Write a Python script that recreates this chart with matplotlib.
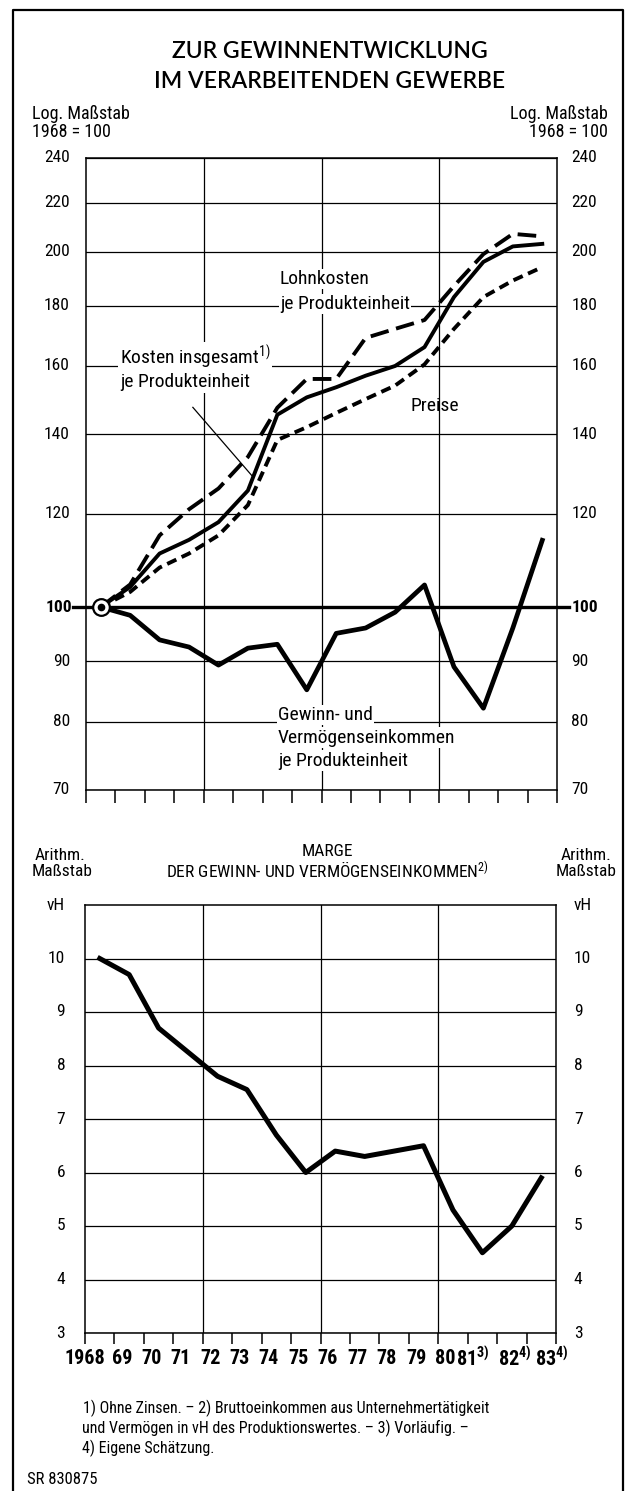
import matplotlib
matplotlib.use('Agg')
import matplotlib.pyplot as plt
from matplotlib import font_manager as fm
from matplotlib.lines import Line2D
from matplotlib.ticker import NullLocator
import numpy as np

# ---------------- data ----------------
years = list(range(1968, 1984))
year_labels = ['1968', '69', '70', '71', '72', '73', '74', '75', '76', '77',
               '78', '79', '80', r'81$^{3)}$', r'82$^{4)}$', r'83$^{4)}$']
kosten = [100, 104, 111, 114, 118, 125.5, 145.5, 150.5, 153.5, 157, 160, 166, 183, 196, 202, 203]
lohn = [100, 104.5, 115, 121, 126, 134, 147.5, 156, 156, 169, 172, 175, 187, 199, 207, 206]
preise = [100, 103, 108, 111, 115, 122, 138.5, 142, 146, 150, 154, 160.5, 172, 183, 189, 194]
gewinn = [100, 98.4, 93.8, 92.5, 89.3, 92.3, 93.0, 85.1, 95.0, 96.0, 99.0, 104.4, 89.0, 82.1, 96.0, 113.9]
marge = [10.0, 9.7, 8.7, 8.25, 7.8, 7.55, 6.7, 6.0, 6.4, 6.3, 6.4, 6.5, 5.3, 4.5, 5.0, 5.9]
top_ticks = [70, 80, 90, 100, 120, 140, 160, 180, 200, 220, 240]
bottom_ticks = [3, 4, 5, 6, 7, 8, 9, 10]

# ---------------- fonts ----------------
names = {f.name for f in fm.fontManager.ttflist}
def pick(*cands):
    for c in cands:
        if c in names:
            return c
    return 'DejaVu Sans'
NARROW = pick('Liberation Sans Narrow', 'Roboto Condensed', 'Liberation Sans')
TITLEF = pick('Lato', 'Open Sans', 'Liberation Sans')
plt.rcParams['font.family'] = [NARROW, 'DejaVu Sans']
plt.rcParams['mathtext.default'] = 'regular'

W, H = 626, 1491
fig = plt.figure(figsize=(W / 100, H / 100), dpi=100)

def fx(px):
    return px / W

def fy(py):
    return 1 - py / H

# frame around the whole figure
fig.add_artist(Line2D([fx(13), fx(13), fx(623), fx(623)], [0, fy(10), fy(10), 0],
                      transform=fig.transFigure, color='k', lw=1.6))

# ---------------- titles ----------------
fig.text(fx(330), fy(52), 'ZUR GEWINNENTWICKLUNG', ha='center', va='center',
         fontsize=16.5, family=TITLEF, weight='semibold')
fig.text(fx(330), fy(82), 'IM VERARBEITENDEN GEWERBE', ha='center', va='center',
         fontsize=16.5, family=TITLEF, weight='semibold')

fig.text(fx(32), fy(114), 'Log. Maßstab', ha='left', va='center', fontsize=13)
fig.text(fx(32), fy(132), '1968 = 100', ha='left', va='center', fontsize=13)
fig.text(fx(608), fy(114), 'Log. Maßstab', ha='right', va='center', fontsize=13)
fig.text(fx(608), fy(132), '1968 = 100', ha='right', va='center', fontsize=13)

# ---------------- top chart ----------------
x = np.arange(len(years)) + 0.5
ax1 = fig.add_axes([fx(86), fy(790), (557 - 86) / W, (790 - 158) / H])
ax1.set_yscale('log')
ax1.set_xlim(0, 16)
ax1.set_ylim(70, 240)
ax1.yaxis.set_major_locator(NullLocator())
ax1.yaxis.set_minor_locator(NullLocator())
ax1.set_xticks(range(17))
ax1.tick_params(axis='x', direction='out', length=9, width=1.1, labelbottom=False)
for s in ax1.spines.values():
    s.set_linewidth(1.1)

for v in top_ticks:
    if v == 100:
        ax1.plot([-0.028, 1.025], [v, v], transform=ax1.get_yaxis_transform(),
                 color='k', lw=2.4, clip_on=False, zorder=2)
    else:
        ax1.axhline(v, color='k', lw=0.9, zorder=1)
    wt = 'bold' if v == 100 else 'normal'
    ax1.text(-0.034 if v != 100 else -0.03, v, str(v), transform=ax1.get_yaxis_transform(),
             ha='right', va='center', fontsize=12.5, weight=wt)
    ax1.text(1.03, v, str(v), transform=ax1.get_yaxis_transform(),
             ha='left', va='center', fontsize=12.5, weight=wt)
for v in [4, 8, 12]:
    ax1.axvline(v, color='k', lw=0.9, zorder=1)

ax1.plot(x, gewinn, color='k', lw=3.4, zorder=4)
ax1.plot(x, kosten, color='k', lw=2.8, zorder=4)
ax1.plot(x, lohn, color='k', lw=2.8, dashes=(4.8, 2.0), zorder=4)
ax1.plot(x, preise, color='k', lw=2.8, dashes=(2.6, 1.5), zorder=4)
ax1.plot(x[0], gewinn[0], marker='o', ms=12, mfc='white', mec='k', mew=1.6, zorder=6)
ax1.plot(x[0], gewinn[0], marker='o', ms=4.5, mfc='k', mec='k', zorder=7)

lab = dict(fontsize=14, ha='left', va='center', zorder=8,
           bbox=dict(fc='white', ec='none', pad=1.0))
ax1.text(6.59, 189.6, 'Lohnkosten', **lab)
ax1.text(6.59, 180.5, 'je Produkteinheit', **lab)
ax1.text(1.15, 162.5, r'Kosten insgesamt$^{1)}$', **lab)
ax1.text(1.15, 155.0, 'je Produkteinheit', **lab)
ax1.text(11.85, 148, 'Preise', fontsize=14, ha='center', va='center', zorder=8)
ax1.text(6.52, 81.0, 'Gewinn- und', **lab)
ax1.text(6.52, 77.5, 'Vermögenseinkommen', **lab)
ax1.text(6.52, 74.1, 'je Produkteinheit', **lab)
tx = 5.67
ax1.plot([3.63, tx], [147.6, np.interp(tx, x, kosten)], color='k', lw=0.9, zorder=5)

# ---------------- bottom chart ----------------
fig.text(fx(60), fy(855), 'Arithm.', ha='center', va='center', fontsize=12.5)
fig.text(fx(62), fy(872), 'Maßstab', ha='center', va='center', fontsize=12.5)
fig.text(fx(586), fy(855), 'Arithm.', ha='center', va='center', fontsize=12.5)
fig.text(fx(586), fy(872), 'Maßstab', ha='center', va='center', fontsize=12.5)
fig.text(fx(327), fy(852), 'MARGE', ha='center', va='center', fontsize=12.5)
fig.text(fx(327), fy(871), r'DER GEWINN- UND VERMÖGENSEINKOMMEN$^{2)}$',
         ha='center', va='center', fontsize=12.5)

ax2 = fig.add_axes([fx(85), fy(1333), (556 - 85) / W, (1333 - 905) / H])
ax2.set_xlim(0, 16)
ax2.set_ylim(3, 11)
ax2.yaxis.set_major_locator(NullLocator())
ax2.set_xticks(range(17))
ax2.tick_params(axis='x', direction='out', length=8, width=1.1, labelbottom=False)
for s in ax2.spines.values():
    s.set_linewidth(1.1)
for v in bottom_ticks:
    ax2.axhline(v, color='k', lw=0.9, zorder=1)
    ax2.text(-0.042, v, str(v), transform=ax2.get_yaxis_transform(),
             ha='right', va='center', fontsize=12.5)
    ax2.text(1.038, v, str(v), transform=ax2.get_yaxis_transform(),
             ha='left', va='center', fontsize=12.5)
ax2.text(-0.042, 11, 'vH', transform=ax2.get_yaxis_transform(),
         ha='right', va='center', fontsize=12.5)
ax2.text(1.038, 11, 'vH', transform=ax2.get_yaxis_transform(),
         ha='left', va='center', fontsize=12.5)
for v in [4, 8, 12]:
    ax2.axvline(v, color='k', lw=0.9, zorder=1)
ax2.plot(x, marge, color='k', lw=3.6, zorder=4)

# year labels: plain ones centred, footnoted ones left-anchored
shift = [-0.5] + [-0.25] * 12 + [-0.9, -0.47, -0.21]
for i, t in enumerate(year_labels):
    ha = 'left' if '$' in t else 'center'
    ax2.text(x[i] + shift[i], -0.06, t, transform=ax2.get_xaxis_transform(),
             ha=ha, va='center', fontsize=14.5, weight='bold')

# footnotes
fn = dict(ha='left', va='center', fontsize=11.5)
fig.text(fx(83), fy(1408), '1) Ohne Zinsen. – 2) Bruttoeinkommen aus Unternehmertätigkeit', **fn)
fig.text(fx(82), fy(1428), 'und Vermögen in vH des Produktionswertes. – 3) Vorläufig. –', **fn)
fig.text(fx(82), fy(1448), '4) Eigene Schätzung.', **fn)
fig.text(fx(27), fy(1480), 'SR 830875', ha='left', va='center', fontsize=12)

fig.savefig('out.png', dpi=100)
